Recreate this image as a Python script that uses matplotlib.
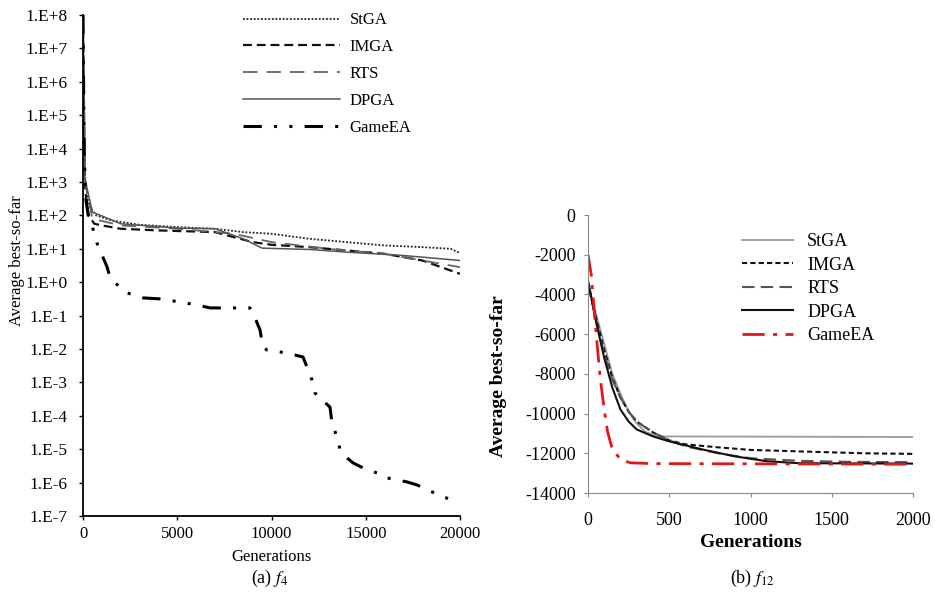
import matplotlib
matplotlib.use("Agg")
import matplotlib.pyplot as plt
import numpy as np

plt.rcParams['font.family'] = ['Liberation Serif', 'DejaVu Serif']
plt.rcParams['mathtext.fontset'] = 'stix'

series_names = ["StGA", "IMGA", "RTS", "DPGA", "GameEA"]

# ---- Panel (a) f4 : generations and log10(average best-so-far) ----
a_stga_gen = [0, 100, 300, 700, 1500, 3000, 5000, 7000, 8500, 10000, 12000, 14000, 16000, 18000, 19500, 20000]
a_stga_log = [8, 3.2, 2.3, 2.0, 1.85, 1.72, 1.65, 1.6, 1.5, 1.45, 1.3, 1.2, 1.1, 1.05, 1.0, 0.87]

a_imga_gen = [0, 100, 300, 600, 1000, 2000, 4000, 7000, 8000, 9000, 10000, 12000, 14000, 16000, 18000, 20000]
a_imga_log = [8, 2.8, 2.0, 1.75, 1.7, 1.6, 1.55, 1.5, 1.35, 1.2, 1.12, 1.05, 0.95, 0.85, 0.65, 0.25]

a_rts_gen = [0, 100, 500, 2000, 5000, 8000, 10000, 13000, 16000, 20000]
a_rts_log = [8, 3.0, 1.9, 1.7, 1.6, 1.45, 1.2, 1.0, 0.85, 0.45]

a_dpga_gen = [0, 100, 500, 2000, 5000, 7000, 8500, 9500, 12000, 14000, 17000, 20000]
a_dpga_log = [8, 3.1, 2.1, 1.75, 1.62, 1.6, 1.3, 1.02, 0.98, 0.9, 0.8, 0.65]

a_game_gen = [0, 60, 150, 300, 477, 743, 1273, 1432, 2069, 2334, 3183, 4085, 4456, 6048, 6737,
              8859, 9018, 9390, 9549, 9761, 10822, 11671, 11883, 12148, 12308, 13103, 13210,
              13528, 13634, 14005, 14324, 15066, 15597, 15862, 17188, 17719, 19098, 19629]
a_game_log = [8, 4, 2.5, 1.9, 1.7, 1.17, 0.46, 0.16, -0.23, -0.32, -0.47, -0.5, -0.53, -0.68, -0.77,
              -0.77, -0.92, -1.43, -1.94, -2.03, -2.12, -2.24, -2.54, -2.93, -3.32, -3.74, -4.22,
              -4.72, -5.02, -5.26, -5.41, -5.62, -5.71, -5.83, -5.98, -6.07, -6.43, -6.52]

a_xticks = [0, 5000, 10000, 15000, 20000]
a_yexp = [8, 7, 6, 5, 4, 3, 2, 1, 0, -1, -2, -3, -4, -5, -6, -7]
a_ylabels = ["1.E+8", "1.E+7", "1.E+6", "1.E+5", "1.E+4", "1.E+3", "1.E+2", "1.E+1",
             "1.E+0", "1.E-1", "1.E-2", "1.E-3", "1.E-4", "1.E-5", "1.E-6", "1.E-7"]

# ---- Panel (b) f12 ----
b_stga_gen = [0, 50, 100, 150, 200, 250, 300, 350, 420, 2000]
b_stga_val = [-3500, -5000, -6500, -8000, -9000, -9900, -10500, -10900, -11150, -11180]

b_imga_gen = [0, 50, 100, 150, 200, 250, 300, 400, 500, 600, 800, 1000, 1200, 1400, 1700, 2000]
b_imga_val = [-3400, -5200, -6800, -8200, -9200, -9900, -10400, -10950, -11350, -11550, -11700,
              -11830, -11880, -11930, -12000, -12030]

b_rts_gen = [0, 50, 100, 150, 200, 250, 300, 400, 500, 600, 800, 1000, 1300, 1600, 2000]
b_rts_val = [-3500, -5300, -7000, -8300, -9200, -9900, -10400, -10950, -11350, -11650, -12000,
             -12250, -12380, -12430, -12450]

b_dpga_gen = [0, 50, 100, 150, 200, 250, 300, 400, 500, 700, 900, 1100, 1300, 2000]
b_dpga_val = [-3300, -5400, -7200, -8700, -9800, -10400, -10800, -11150, -11400, -11800, -12150,
              -12400, -12500, -12520]

b_game_gen = [0, 20, 45, 75, 100, 120, 150, 200, 260, 400, 2000]
b_game_val = [-2000, -3000, -5500, -8200, -9800, -10900, -11800, -12300, -12480, -12520, -12550]

b_xticks = [0, 500, 1000, 1500, 2000]
b_yticks = [0, -2000, -4000, -6000, -8000, -10000, -12000, -14000]

W, H = 935, 594
fig = plt.figure(figsize=(W / 100, H / 100), dpi=100)

def box(l, t, r, b):
    return [l / W, 1 - b / H, (r - l) / W, (b - t) / H]

# ---------- Left panel ----------
ax1 = fig.add_axes(box(83, 15, 460, 516))
ax1.set_yscale('log')
ax1.plot(a_stga_gen, 10 ** np.array(a_stga_log), color='#222222', lw=1.3, ls=(0, (1, 1)), label=series_names[0])
ax1.plot(a_imga_gen, 10 ** np.array(a_imga_log), color='#111111', lw=1.6, ls=(0, (4, 2.2)), label=series_names[1])
ax1.plot(a_rts_gen, 10 ** np.array(a_rts_log), color='#666666', lw=1.3, ls=(0, (8, 5)), label=series_names[2])
ax1.plot(a_dpga_gen, 10 ** np.array(a_dpga_log), color='#555555', lw=1.1, ls='-', label=series_names[3])
ax1.plot(a_game_gen, 10 ** np.array(a_game_log), color='#000000', lw=2.2, ls=(0, (6, 4, 1, 4, 1, 4)), label=series_names[4])
ax1.set_xlim(0, 20000)
ax1.set_ylim(1e-7, 1e8)
ax1.set_xticks(a_xticks)
ax1.set_xticklabels([str(v) for v in a_xticks])
ax1.set_yticks([10.0 ** e for e in a_yexp])
ax1.set_yticklabels(a_ylabels)
ax1.yaxis.set_minor_locator(matplotlib.ticker.NullLocator())
for s in ['top', 'right']:
    ax1.spines[s].set_visible(False)
for s in ['left', 'bottom']:
    ax1.spines[s].set_linewidth(1.3)
ax1.tick_params(axis='both', length=3, width=1)
ax1.tick_params(axis='y', labelsize=12.5, pad=8)
ax1.tick_params(axis='x', labelsize=12, pad=4)
ax1.set_xlabel("Generations", fontsize=12)
ax1.xaxis.set_label_coords(0.5, -0.066)
ax1.set_ylabel("Average best-so-far", fontsize=12)
ax1.yaxis.set_label_coords(-0.155, 0.51)
ax1.legend(loc='upper left', bbox_to_anchor=(0.424, 1.005), frameon=False, fontsize=12,
           handlelength=5.8, handletextpad=0.6, labelspacing=0.65, borderpad=0, borderaxespad=0)

# ---------- Right panel ----------
ax2 = fig.add_axes(box(588, 215, 913, 493))
ax2.plot(b_stga_gen, b_stga_val, color='#9a9a9a', lw=1.3, ls='-', label=series_names[0])
ax2.plot(b_imga_gen, b_imga_val, color='#111111', lw=1.5, ls=(0, (2.5, 1.5)), label=series_names[1])
ax2.plot(b_rts_gen, b_rts_val, color='#555555', lw=1.5, ls=(0, (6, 3)), label=series_names[2])
ax2.plot(b_dpga_gen, b_dpga_val, color='#111111', lw=1.5, ls='-', label=series_names[3])
ax2.plot(b_game_gen, b_game_val, color='#e01818', lw=2.0, ls=(0, (8, 3, 1.5, 3)), label=series_names[4])
ax2.set_xlim(0, 2000)
ax2.set_ylim(-14000, 0)
ax2.set_xticks(b_xticks)
ax2.set_xticklabels([str(v) for v in b_xticks])
ax2.set_yticks(b_yticks)
ax2.set_yticklabels([str(v) for v in b_yticks])
for s in ['top', 'right']:
    ax2.spines[s].set_visible(False)
for s in ['left', 'bottom']:
    ax2.spines[s].set_color('#888888')
ax2.tick_params(axis='both', labelsize=13, length=3, width=0.8, color='#888888')
ax2.tick_params(axis='x', pad=11)
ax2.tick_params(axis='y', pad=6)
ax2.set_xlabel("Generations", fontsize=14, fontweight='bold')
ax2.xaxis.set_label_coords(0.5, -0.147)
ax2.set_ylabel("Average best-so-far", fontsize=14, fontweight='bold')
ax2.yaxis.set_label_coords(-0.25, 0.42)
ax2.legend(loc='upper left', bbox_to_anchor=(0.474, 0.935), frameon=False, fontsize=13,
           handlelength=2.8, handletextpad=0.8, labelspacing=0.36, borderpad=0, borderaxespad=0)

# ---------- Captions ----------
fig.text(270 / W, 1 - 578 / H, r"(a) $f_4$", ha='center', va='center', fontsize=13)
fig.text(752 / W, 1 - 578 / H, r"(b) $f_{12}$", ha='center', va='center', fontsize=13)

fig.savefig("out.png", dpi=100)
